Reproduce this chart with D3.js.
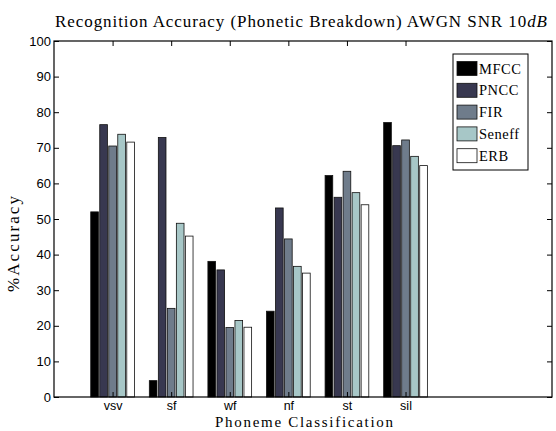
<!DOCTYPE html>
<html>
<head>
<meta charset="utf-8">
<script src="https://cdn.jsdelivr.net/npm/d3@7"></script>
<style>
  body { margin: 0; background: #fff; }
  .tick text { font-family: "Liberation Sans", Arial, sans-serif; font-size: 13px; fill: #000; }
  .serif { font-family: "Liberation Serif", "Times New Roman", serif; fill: #000; }
</style>
</head>
<body>
<script>
// phoneme categories (x axis)
var categories = ["vsv", "sf", "wf", "nf", "st", "sil"];

// feature sets (legend / series)
var seriesNames = ["MFCC", "PNCC", "FIR", "Seneff", "ERB"];

// accuracy per series, one value per category
var mfcc   = [52.0,  4.6, 38.1, 24.1, 62.2, 77.1];
var pncc   = [76.5, 72.9, 35.7, 53.1, 56.1, 70.6];
var fir    = [70.5, 24.9, 19.5, 44.4, 63.4, 72.2];
var seneff = [73.8, 48.8, 21.5, 36.7, 57.4, 67.6];
var erb    = [71.6, 45.2, 19.6, 34.8, 54.0, 65.0];

var yTicks = [0, 10, 20, 30, 40, 50, 60, 70, 80, 90, 100];

var seriesValues = [mfcc, pncc, fir, seneff, erb];
// matlab "bone" colormap, 5 steps
var colors = ["#000000", "#383850", "#6f7c8b", "#a7c7c7", "#ffffff"];

drawChart();

function drawChart(){
    var width = 556,
        height = 431;

    var svg = d3.select("body")
        .append("svg")
        .attr("width", width)
        .attr("height", height);

    //plot box in pixels
    var pLeft = 54, pRight = 552, pTop = 41, pBottom = 397;

    // x axis goes a bit past the last group, leaving room for the legend
    var x = d3.scaleLinear()
        .domain([0, 8.5])
        .range([pLeft, pRight]);

    var y = d3.scaleLinear()
        .domain([0, 100])
        .range([pBottom, pTop]);

    // grouped bar geometry like matlab's bar()
    var nb = seriesNames.length;
    var groupWidth = Math.min(0.8, nb / (nb + 1.5));
    var pitch = groupWidth / nb;
    var barWidth = pitch * 0.85;

    seriesValues.forEach(function(vals, s){
        svg.selectAll(".bar-" + s)
            .data(vals)
            .enter()
            .append("rect")
            .attr("class", "bar-" + s)
            .attr("x", function(d, i){
                var c = (i + 1) - groupWidth / 2 + (s + 0.5) * pitch;
                return x(c - barWidth / 2);
            })
            .attr("width", x(barWidth) - x(0))
            .attr("y", function(d){ return y(d); })
            .attr("height", function(d){ return y(0) - y(d); })
            .attr("fill", colors[s])
            .attr("stroke", "#111")
            .attr("stroke-width", 0.8);
    });

    // axes with inward ticks on all four sides
    var catPos = categories.map(function(d, i){ return i + 1; });

    svg.append("g")
        .attr("class", "xcat")
        .attr("transform", "translate(0," + pBottom + ")")
        .call(d3.axisBottom(x)
            .tickValues(catPos)
            .tickFormat(function(d){ return categories[d - 1]; })
            .tickSizeInner(-5)
            .tickSizeOuter(0)
            .tickPadding(4));
    svg.selectAll(".xcat .tick text").style("font-size", "12.5px");

    svg.append("g")
        .attr("transform", "translate(0," + pTop + ")")
        .call(d3.axisTop(x)
            .tickValues(catPos)
            .tickFormat("")
            .tickSizeInner(-5)
            .tickSizeOuter(0));

    svg.append("g")
        .attr("transform", "translate(" + pLeft + ",0)")
        .call(d3.axisLeft(y)
            .tickValues(yTicks)
            .tickSizeInner(-5)
            .tickSizeOuter(0)
            .tickPadding(3));

    svg.append("g")
        .attr("transform", "translate(" + pRight + ",0)")
        .call(d3.axisRight(y)
            .tickValues(yTicks)
            .tickFormat("")
            .tickSizeInner(-5)
            .tickSizeOuter(0));

    svg.selectAll(".domain").remove();
    svg.selectAll(".tick line").attr("stroke", "#000").attr("stroke-width", 1);

    // box
    svg.append("rect")
        .attr("x", pLeft)
        .attr("y", pTop)
        .attr("width", pRight - pLeft)
        .attr("height", pBottom - pTop)
        .attr("fill", "none")
        .attr("stroke", "#000")
        .attr("stroke-width", 1.2);

    // title
    var title = svg.append("text")
        .attr("class", "serif")
        .attr("x", 301)
        .attr("y", 27)
        .attr("text-anchor", "middle")
        .attr("textLength", 492)
        .attr("lengthAdjust", "spacing")
        .style("font-size", "17px");
    title.append("tspan").text("Recognition Accuracy (Phonetic Breakdown) AWGN SNR 10");
    title.append("tspan").style("font-style", "italic").text("dB");

    // axis labels
    svg.append("text")
        .attr("class", "serif")
        .attr("x", 304)
        .attr("y", 427)
        .attr("text-anchor", "middle")
        .attr("textLength", 178)
        .attr("lengthAdjust", "spacing")
        .style("font-size", "15px")
        .text("Phoneme Classification");

    svg.append("text")
        .attr("class", "serif")
        .attr("transform", "translate(19,244) rotate(-90)")
        .attr("text-anchor", "middle")
        .attr("textLength", 96)
        .attr("lengthAdjust", "spacing")
        .style("font-size", "17px")
        .text("%Accuracy");

    // legend
    var lg = svg.append("g").attr("transform", "translate(453,54)");
    lg.append("rect")
        .attr("width", 75)
        .attr("height", 116)
        .attr("fill", "#fff")
        .attr("stroke", "#000")
        .attr("stroke-width", 1);

    var items = lg.selectAll(".item")
        .data(seriesNames)
        .enter()
        .append("g")
        .attr("class", "item")
        .attr("transform", function(d, i){ return "translate(4," + (7.5 + i * 21.8) + ")"; });

    items.append("rect")
        .attr("width", 20)
        .attr("height", 14)
        .attr("fill", function(d, i){ return colors[i]; })
        .attr("stroke", "#111")
        .attr("stroke-width", 0.8);

    items.append("text")
        .attr("class", "serif")
        .attr("x", 22)
        .attr("y", 12)
        .style("font-size", "14.5px")
        .style("letter-spacing", "0.5px")
        .text(function(d){ return d; });
}
</script>
</body>
</html>
